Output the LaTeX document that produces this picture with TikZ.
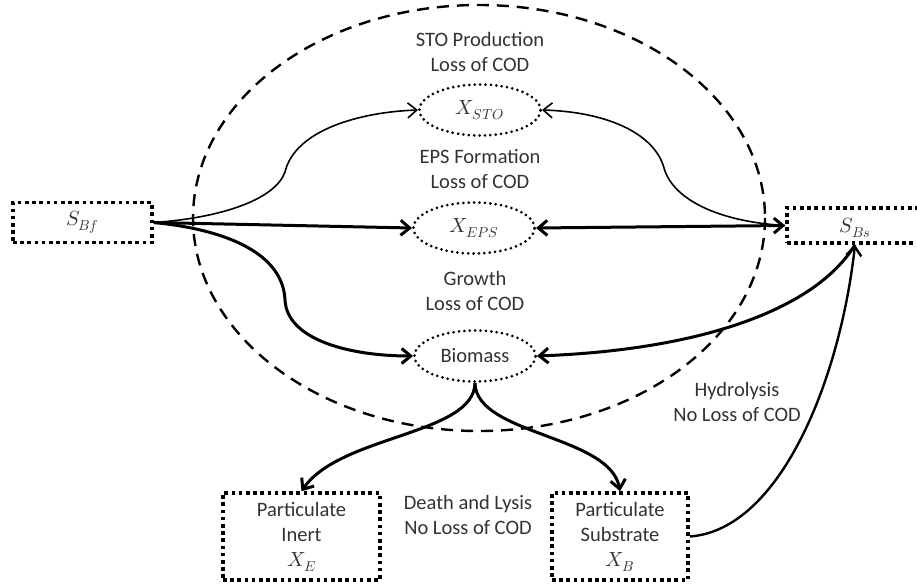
\documentclass[tikz,border=0pt]{standalone}
\usepackage{fontspec}
\usepackage{unicode-math}
\setmainfont{Carlito}
\setmathfont{Latin Modern Math}
\usetikzlibrary{arrows.meta,shapes.geometric}
\definecolor{txt}{RGB}{50,50,50}
\begin{document}
\begin{tikzpicture}[x=1pt,y=-1pt,
  every node/.style={text=txt,font=\fontsize{20.5}{25}\selectfont},
  dotbox/.style={draw,line width=3.6pt,dash pattern=on 3.6pt off 3.6pt,inner sep=0pt,align=center},
  pool/.style={draw,ellipse,line width=3pt,line cap=round,dash pattern=on 0pt off 5.4pt,
    minimum width=121pt,minimum height=51pt,inner sep=0pt},
  label/.style={align=center},
  tip/.style={Straight Barb[length=9pt,width=15pt]},
  thinflow/.style={line width=1.6pt,-{Straight Barb[length=9pt,width=15pt]}},
  thickflow/.style={line width=3pt,-{Straight Barb[length=9pt,width=15pt]}},
  hydro/.style={line width=2.4pt,-{Straight Barb[length=9pt,width=15pt]}},
]
\clip (0,0) rectangle (917,583);

% reactor boundary
\draw[line width=2.4pt,dash pattern=on 12pt off 8pt] (479,218) ellipse [x radius=286, y radius=213];

% substrate boxes
\node[dotbox,minimum width=139pt,minimum height=40pt] (Bf) at (82.5,222.5) {$S_{Bf}$};
\node[dotbox,minimum width=160pt,minimum height=35pt] (Bs) at (867,225.5) {};
\node (BsText) at (855,228) {$S_{Bs}$};
\coordinate (BsIn) at (BsText |- Bs.south);

% particulate boxes
\node[dotbox,minimum width=157pt,minimum height=87pt] (XE) at (301.5,536.5) {Particulate\\Inert\\$X_E$};
\node[dotbox,minimum width=136pt,minimum height=87pt] (XB) at (620,536.5) {Particulate\\Substrate\\$X_B$};

% internal pools
\node[pool] (STO) at (480,110) {$X_{STO}$};
\node[pool] (EPS) at (474,228) {$X_{EPS}$};
\node[pool] (Bio) at (475,356) {Biomass};

% process labels
\node[label] (lsto) at (480,52) {STO Production\\Loss of COD};
\node[label] (leps) at (480,169) {EPS Formation\\Loss of COD};
\node[label] (lgro) at (475,291) {Growth\\Loss of COD};
\node[label] (lhyd) at (737,402) {Hydrolysis\\No Loss of COD};
\node[label] (ldea) at (468,515) {Death and Lysis\\No Loss of COD};

% storage
\draw[thinflow] (Bf.east) .. controls (220,218) and (275,200) .. (285,172)
  .. controls (295,130) and (360,112) .. (STO.west);
\draw[thinflow] (Bs.west) .. controls (720,222) and (673,200) .. (664,168)
  .. controls (655,135) and (610,112) .. (STO.east);

% EPS formation
\draw[thickflow] (Bf.east) -- (EPS.west);
\draw[line width=3pt,{Straight Barb[length=9pt,width=15pt]}-{Straight Barb[length=9pt,width=15pt]}] (Bs.west) -- (EPS.east);

% growth
\draw[thickflow] (Bf.east) .. controls (230,230) and (283,255) .. (285,300)
  .. controls (287,340) and (350,356) .. (Bio.west);
\draw[thickflow] (BsIn) .. controls (815,310) and (700,350) .. (Bio.east);

% death and lysis
\draw[thickflow] (Bio.south) .. controls (474,435) and (340,435) .. (XE.north);
\draw[thickflow] (Bio.south) .. controls (476,435) and (610,435) .. (XB.north);

% hydrolysis
\draw[hydro] (XB.east) .. controls (780,530) and (840,380) .. (BsIn);
\end{tikzpicture}
\end{document}
